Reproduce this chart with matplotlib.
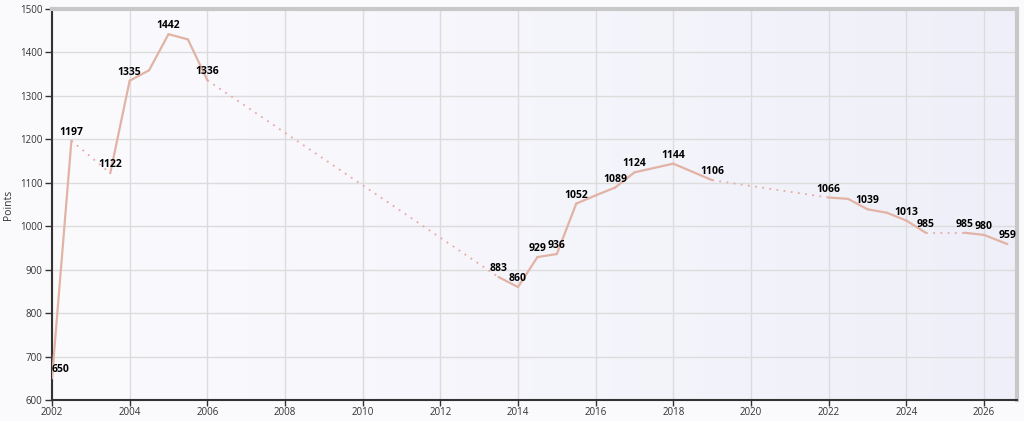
import numpy as np
import matplotlib
matplotlib.use('Agg')
import matplotlib.pyplot as plt
from matplotlib.colors import LinearSegmentedColormap

years = [2002.0, 2002.5, 2003.5, 2004.0, 2004.5, 2005.0, 2005.5, 2006.0,
         2013.5, 2014.0, 2014.5, 2015.0, 2015.5, 2016.0, 2016.5, 2017.0,
         2017.5, 2018.0, 2018.5, 2019.0, 2022.0, 2022.5, 2023.0, 2023.5,
         2024.0, 2024.5, 2025.5, 2026.0, 2026.6]
points = [650, 1197, 1122, 1335, 1359, 1442, 1430, 1336,
          883, 860, 929, 936, 1052, 1071, 1089, 1124,
          1134, 1144, 1125, 1106, 1066, 1063, 1039, 1031,
          1013, 985, 985, 980, 959]
shown = [1, 1, 1, 1, 0, 1, 0, 1,
         1, 1, 1, 1, 1, 0, 1, 1,
         0, 1, 0, 1, 1, 0, 1, 0,
         1, 1, 1, 1, 1]
xticks = list(range(2002, 2027, 2))
yticks = list(range(600, 1501, 100))

line_col = '#e2b3a5'
plt.rcParams['font.family'] = ['Open Sans', 'DejaVu Sans']

fig = plt.figure(figsize=(10.24, 4.21), dpi=100, facecolor='#fafafd')
ax = fig.add_axes([52/1024, 21/421, 965/1024, 391/421])

# plot background gradient
grad = np.linspace(0, 1, 256).reshape(1, -1)
cmap = LinearSegmentedColormap.from_list('bg', ['#fbfbfe', '#efeff9'])
ax.imshow(grad, extent=[0, 1, 0, 1], transform=ax.transAxes, cmap=cmap,
          aspect='auto', zorder=0)

# lines: solid for half-year steps, dotted over gaps
for i in range(len(years) - 1):
    xs = years[i:i+2]
    ys = points[i:i+2]
    if years[i+1] - years[i] > 0.75:
        ax.plot(xs, ys, color='#e8a9a4', lw=1.3, linestyle=(0, (1, 3)), zorder=3)
    else:
        ax.plot(xs, ys, color=line_col, lw=1.6, zorder=3, solid_capstyle='round')

for x, y, s in zip(years, points, shown):
    if not s:
        continue
    if x == years[0]:
        ax.annotate(str(y), (x, y), xytext=(0, 3), textcoords='offset pixels',
                    ha='left', va='bottom', fontsize=7.5, fontweight='bold', zorder=5)
    else:
        ax.annotate(str(y), (x, y), xytext=(0, 3), textcoords='offset pixels',
                    ha='center', va='bottom', fontsize=7.5, fontweight='bold', zorder=5)

ax.set_xlim(2002, 2026.85)
ax.set_ylim(600, 1500)
ax.set_xticks(xticks)
ax.set_yticks(yticks)
ax.grid(True, color='#dcdcdc', lw=1, zorder=1)
ax.set_axisbelow(True)
ax.tick_params(labelsize=7, colors='#333333', width=1)
ax.tick_params(axis='y', length=5, pad=2)
ax.tick_params(axis='x', length=4, pad=1)
ax.set_ylabel('Points', fontsize=7.5, color='#333333', labelpad=4)

for side in ['left', 'bottom']:
    ax.spines[side].set_color('#333333')
    ax.spines[side].set_linewidth(1.5)
for side in ['top', 'right']:
    ax.spines[side].set_color('#c8c8c8')
    ax.spines[side].set_linewidth(3)

plt.savefig('out.png', dpi=100, facecolor=fig.get_facecolor())
